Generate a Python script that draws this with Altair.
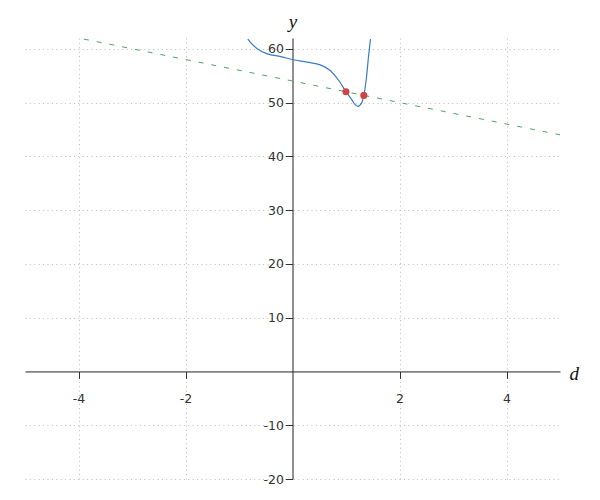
import altair as alt
import pandas as pd

# ---- data ----
curve_d = [-0.836, -0.75, -0.66, -0.47, -0.22, 0.0, 0.275, 0.52, 0.71, 0.865,
           1.0, 1.116, 1.17, 1.22, 1.26, 1.30, 1.333, 1.383, 1.426, 1.458]
curve_y = [61.8, 60.8, 60.0, 59.05, 58.55, 58.0, 57.5, 57.0, 55.9, 54.1,
           52.0, 50.4, 49.6, 49.3, 49.5, 50.1, 51.3, 54.7, 59.05, 61.8]
line_d = [-3.9, 5.0]
line_y = [61.8, 44.0]
pt_d = [1.0, 1.333]
pt_y = [52.0, 51.33]
x_ticks = [-4, -2, 2, 4]
y_ticks = [-20, -10, 10, 20, 30, 40, 50, 60]
x_domain = [-5, 5]
y_domain = [-20, 62]

W, H = 535, 441
x_axis_shift = -H * (0 - y_domain[0]) / (y_domain[1] - y_domain[0])
y_axis_shift = -W * (0 - x_domain[0]) / (x_domain[1] - x_domain[0])

curve_df = pd.DataFrame({"d": curve_d, "y": curve_y})
line_df = pd.DataFrame({"d": line_d, "y": line_y})
pt_df = pd.DataFrame({"d": pt_d, "y": pt_y})

xs = alt.Scale(domain=x_domain, nice=False, zero=False)
ys = alt.Scale(domain=y_domain, nice=False, zero=False)

common_axis = dict(
    labelFont="DejaVu Sans", labelFontSize=12.5, labelColor="#333333",
    labelExpr="'' + datum.value",
    tickColor="#333333", domainColor="#222222", domainWidth=1,
    tickSize=7, gridColor="#bbbbbb", gridDash=[1, 3.4], gridWidth=1,
    titleFont="Liberation Serif", titleFontStyle="italic", titleFontWeight="normal",
    titleFontSize=19, titleColor="#111111", titleAngle=0, titleBaseline="middle",
)

x_axis = alt.Axis(values=x_ticks, offset=x_axis_shift, labelPadding=14,
                  title="d", titleAlign="left", titleX=W + 9, titleY=2,
                  **common_axis)
y_axis = alt.Axis(values=y_ticks, offset=y_axis_shift, labelPadding=2,
                  title="y", titleAlign="center", titleX=0, titleY=-17,
                  **common_axis)

X = alt.X("d:Q", scale=xs, axis=x_axis)
Y = alt.Y("y:Q", scale=ys, axis=y_axis)

dashed = alt.Chart(line_df).mark_line(
    color="#4ca55e", strokeWidth=1, strokeDash=[5, 8], clip=True
).encode(x=X, y=Y)

curve = alt.Chart(curve_df).mark_line(
    color="#3a7cc4", strokeWidth=1.2, interpolate="monotone", clip=True
).encode(x=X, y=Y)

points = alt.Chart(pt_df).mark_circle(
    color="#d24444", size=50, opacity=1
).encode(x=X, y=Y)

chart = alt.layer(dashed, curve, points).properties(
    width=W, height=H,
    autosize=alt.AutoSizeParams(type="none"),
    padding={"left": 17, "top": 30, "right": 20, "bottom": 12},
).configure_view(stroke=None)

chart.save("out.html", embed_options={"renderer": "svg", "actions": False})
